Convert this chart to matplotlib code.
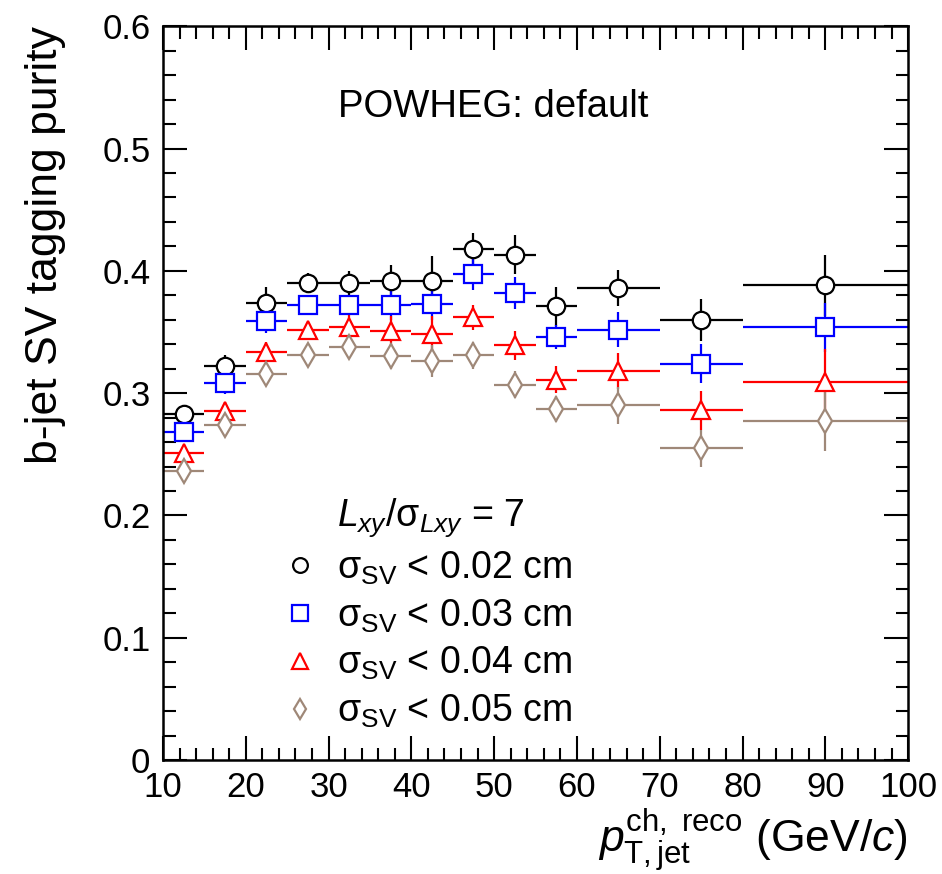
#!/usr/bin/env python
# -*- coding: utf-8 -*-
import numpy as np
import matplotlib
matplotlib.use("Agg")
import matplotlib.pyplot as plt
from matplotlib.lines import Line2D
from matplotlib.ticker import MultipleLocator

# pT bin edges (GeV/c)
bin_edges = [10, 15, 20, 25, 30, 35, 40, 45, 50, 55, 60, 70, 80, 100]

labels = [r"$\mathrm{\sigma}_{\mathrm{SV}}$ < 0.02 cm",
          r"$\mathrm{\sigma}_{\mathrm{SV}}$ < 0.03 cm",
          r"$\mathrm{\sigma}_{\mathrm{SV}}$ < 0.04 cm",
          r"$\mathrm{\sigma}_{\mathrm{SV}}$ < 0.05 cm"]

purity_002 = [0.283, 0.322, 0.374, 0.390, 0.390, 0.392, 0.392, 0.418, 0.413, 0.371, 0.386, 0.360, 0.388]
err_002 = [0.004, 0.009, 0.013, 0.008, 0.010, 0.013, 0.020, 0.013, 0.016, 0.016, 0.015, 0.017, 0.025]

purity_003 = [0.268, 0.308, 0.359, 0.372, 0.372, 0.372, 0.373, 0.397, 0.382, 0.346, 0.352, 0.324, 0.354]
err_003 = [0.004, 0.009, 0.010, 0.006, 0.007, 0.012, 0.013, 0.013, 0.013, 0.010, 0.014, 0.016, 0.020]

purity_004 = [0.251, 0.285, 0.334, 0.352, 0.354, 0.351, 0.348, 0.362, 0.339, 0.311, 0.318, 0.286, 0.309]
err_004 = [0.004, 0.008, 0.008, 0.006, 0.010, 0.012, 0.015, 0.010, 0.012, 0.011, 0.015, 0.016, 0.027]

purity_005 = [0.236, 0.274, 0.316, 0.331, 0.338, 0.330, 0.326, 0.331, 0.307, 0.287, 0.290, 0.255, 0.277]
err_005 = [0.004, 0.008, 0.009, 0.007, 0.008, 0.010, 0.013, 0.011, 0.011, 0.011, 0.015, 0.015, 0.024]

FONT = "Liberation Sans"
plt.rcParams["font.family"] = [FONT, "DejaVu Sans"]
plt.rcParams["mathtext.fontset"] = "custom"
plt.rcParams["mathtext.rm"] = FONT
plt.rcParams["mathtext.it"] = FONT + ":italic"
plt.rcParams["mathtext.bf"] = FONT + ":bold"


def main():
    edges = np.array(bin_edges, dtype=float)
    x = 0.5 * (edges[1:] + edges[:-1])
    xerr = 0.5 * (edges[1:] - edges[:-1])

    fig = plt.figure(figsize=(9.42, 8.74), dpi=100)
    ax = fig.add_axes([0.173, 0.1304, 0.791, 0.8396])

    series = [
        (purity_002, err_002, "o", "black", 12.5),
        (purity_003, err_003, "s", "#0000ff", 13.5),
        (purity_004, err_004, "^", "#ff0000", 13),
        (purity_005, err_005, "d", "#9f8878", 12),
    ]
    handles = []
    for (vals, errs, mk, col, ms), lab in zip(series, labels):
        c = ax.errorbar(x, vals, xerr=xerr, yerr=errs, fmt=mk, color=col,
                        mfc="white", mec=col, mew=1.6, ms=ms,
                        elinewidth=1.6, capsize=0, label=lab)
        handles.append(c[0])

    ax.set_xlim(10, 100)
    ax.set_ylim(0, 0.6)
    ax.xaxis.set_major_locator(MultipleLocator(10))
    ax.xaxis.set_minor_locator(MultipleLocator(2))
    ax.yaxis.set_major_locator(MultipleLocator(0.1))
    ax.yaxis.set_minor_locator(MultipleLocator(0.02))
    ax.yaxis.set_major_formatter(plt.FuncFormatter(lambda v, p: "0" if abs(v) < 1e-9 else f"{v:.1f}"))
    ax.tick_params(which="both", direction="in", top=True, right=True,
                   labelsize=25, width=1.5)
    ax.tick_params(which="major", length=17)
    ax.tick_params(which="minor", length=9)
    ax.tick_params(axis="x", pad=8)
    ax.tick_params(axis="y", pad=9)
    for sp in ax.spines.values():
        sp.set_linewidth(1.8)

    ax.set_ylabel("b-jet SV tagging purity", fontsize=32, loc="top", labelpad=26)
    ax.set_xlabel(r"$p_{\mathrm{T,jet}}^{\mathrm{ch,\ reco}}$ (GeV/$c$)",
                  fontsize=32, loc="right", labelpad=2)

    ax.text(0.235, 0.89, "POWHEG: default", transform=ax.transAxes,
            fontsize=27.5, va="center", ha="left")

    header = Line2D([], [], linestyle="none", marker=None)
    ax.legend([header] + handles,
              [r"$L_{xy}/\mathrm{\sigma}_{Lxy}$ = 7"] + labels,
              loc="lower left", bbox_to_anchor=(0.123, 0.005),
              frameon=False, fontsize=27, handlelength=1.0, markerscale=0.85,
              handletextpad=0.5, labelspacing=0.28, borderpad=0.2)

    plt.savefig("out.png", dpi=100)


if __name__ == "__main__":
    main()
